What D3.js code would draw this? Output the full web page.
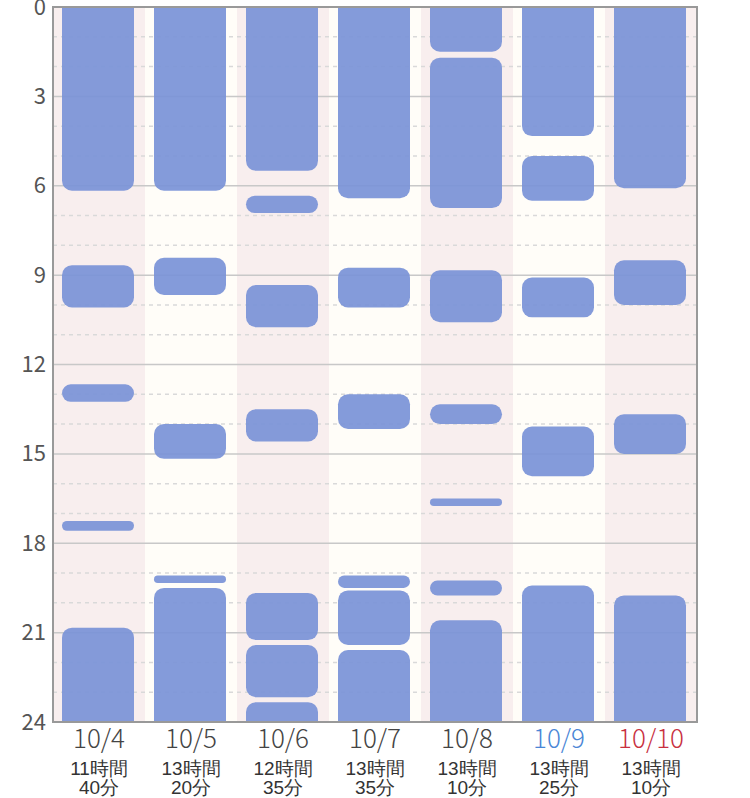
<!DOCTYPE html>
<html>
<head>
<meta charset="utf-8">
<script src="https://cdn.jsdelivr.net/npm/d3@7"></script>
<style>
  body { margin: 0; background: #fff; }
  svg { display: block; font-family: "Noto Sans CJK JP", "Noto Sans", sans-serif; }
</style>
</head>
<body>
<svg width="750" height="798"></svg>
<script>
const svg = d3.select("svg");
const width = +svg.attr("width");
const height = +svg.attr("height");

// data
const days = ["10/4", "10/5", "10/6", "10/7", "10/8", "10/9", "10/10"];
const dayColors = ["#444", "#444", "#444", "#444", "#444", "#4a86d6", "#c8303f"];
const totalHours = ["11時間", "13時間", "12時間", "13時間", "13時間", "13時間", "13時間"];
const totalMinutes = ["40分", "20分", "35分", "35分", "10分", "25分", "10分"];
const hourTicks = [0, 3, 6, 9, 12, 15, 18, 21, 24];

// sleep segments per day, [start, end] as "H:MM"
const sleep0 = [["0:00", "6:10"], ["8:40", "10:05"], ["12:40", "13:15"], ["17:15", "17:35"], ["20:50", "24:00"]];
const sleep1 = [["0:00", "6:10"], ["8:25", "9:40"], ["14:00", "15:10"], ["19:05", "19:20"], ["19:30", "24:00"]];
const sleep2 = [["0:00", "5:30"], ["6:20", "6:55"], ["9:20", "10:45"], ["13:30", "14:35"], ["19:40", "21:15"], ["21:25", "23:10"], ["23:20", "24:00"]];
const sleep3 = [["0:00", "6:25"], ["8:45", "10:05"], ["13:00", "14:10"], ["19:05", "19:30"], ["19:35", "21:25"], ["21:35", "24:00"]];
const sleep4 = [["0:00", "1:30"], ["1:42", "6:45"], ["8:50", "10:35"], ["13:20", "14:00"], ["16:30", "16:45"], ["19:15", "19:45"], ["20:35", "24:00"]];
const sleep5 = [["0:00", "4:20"], ["5:00", "6:30"], ["9:05", "10:25"], ["14:05", "15:45"], ["19:25", "24:00"]];
const sleep6 = [["0:00", "6:05"], ["8:30", "10:00"], ["13:40", "15:00"], ["19:45", "24:00"]];
const sleepByDay = [sleep0, sleep1, sleep2, sleep3, sleep4, sleep5, sleep6];

function toHours(s) {
  let p = s.split(":");
  return +p[0] + +p[1] / 60;
}

const margin = { top: 7, right: 53, bottom: 76, left: 53 };

const x = d3.scaleBand()
  .domain(days)
  .range([margin.left, width - margin.right])
  .padding(0);

const y = d3.scaleLinear()
  .domain([0, 24])
  .range([margin.top, height - margin.bottom]);

// clip so bars touching 0h / 24h are flat at the frame
svg.append("defs").append("clipPath")
  .attr("id", "plotClip")
  .append("rect")
  .attr("x", x.range()[0])
  .attr("y", y(0))
  .attr("width", x.range()[1] - x.range()[0])
  .attr("height", y(24) - y(0));

// column backgrounds
svg.append("g")
  .selectAll("rect")
  .data(days)
  .join("rect")
  .attr("x", d => x(d))
  .attr("y", y(0))
  .attr("width", x.bandwidth())
  .attr("height", y(24) - y(0))
  .attr("fill", (d, i) => i % 2 === 0 ? "#f8eeee" : "#fffdf8");

// grid lines, solid every 3h, dashed every hour
const gridHours = d3.range(1, 24);
svg.append("g")
  .selectAll("line")
  .data(gridHours)
  .join("line")
  .attr("x1", x.range()[0])
  .attr("x2", x.range()[1])
  .attr("y1", d => y(d))
  .attr("y2", d => y(d))
  .attr("stroke", d => d % 3 === 0 ? "#c8c8c8" : "#d9d9d9")
  .attr("stroke-width", 1.5)
  .attr("stroke-dasharray", d => d % 3 === 0 ? null : "4,4");

// sleep bars
const barLeft = 9;
const barWidth = 72;
const R = 10;
const segs = [];
sleepByDay.forEach((list, i) => {
  list.forEach(s => segs.push({ day: days[i], start: toHours(s[0]), end: toHours(s[1]) }));
});

svg.append("g")
  .attr("clip-path", "url(#plotClip)")
  .selectAll("rect")
  .data(segs)
  .join("rect")
  .attr("x", d => x(d.day) + barLeft)
  .attr("width", barWidth)
  .attr("y", d => y(d.start) - (d.start === 0 ? R : 0))
  .attr("height", d => y(d.end) - y(d.start) + (d.start === 0 ? R : 0) + (d.end === 24 ? R : 0))
  .attr("rx", d => Math.min(R, (y(d.end) - y(d.start)) / 2))
  .attr("fill", "#7b93d7")
  .attr("fill-opacity", 0.93);

// frame
svg.append("rect")
  .attr("x", x.range()[0])
  .attr("y", y(0))
  .attr("width", x.range()[1] - x.range()[0])
  .attr("height", y(24) - y(0))
  .attr("fill", "none")
  .attr("stroke", "#999")
  .attr("stroke-width", 2);

// y axis labels
const yAxis = svg.append("g")
  .attr("transform", "translate(" + margin.left + ",0)")
  .call(d3.axisLeft(y).tickValues(hourTicks).tickSize(0).tickPadding(7));
yAxis.select(".domain").remove();
yAxis.selectAll("text")
  .attr("fill", "#555")
  .style("font-size", "22px")
  .style("font-family", "'Noto Sans CJK JP', sans-serif");

// x axis labels (date + total sleep)
const xAxis = svg.append("g")
  .attr("transform", "translate(0," + y(24) + ")")
  .call(d3.axisBottom(x).tickSize(0).tickPadding(0));
xAxis.select(".domain").remove();
xAxis.selectAll("text")
  .attr("dy", null)
  .attr("y", 26)
  .attr("fill", (d, i) => dayColors[i])
  .style("font-size", "26px")
  .style("font-weight", "300")
  .style("font-family", "'Noto Sans CJK JP', sans-serif");

xAxis.selectAll(".tick")
  .each(function (d, i) {
    let g = d3.select(this);
    g.append("text")
      .attr("y", 53)
      .attr("fill", "#333")
      .attr("text-anchor", "middle")
      .style("font-size", "19px")
      .text(totalHours[i]);
    g.append("text")
      .attr("y", 72)
      .attr("fill", "#333")
      .attr("text-anchor", "middle")
      .style("font-size", "19px")
      .text(totalMinutes[i]);
  });
</script>
</body>
</html>
